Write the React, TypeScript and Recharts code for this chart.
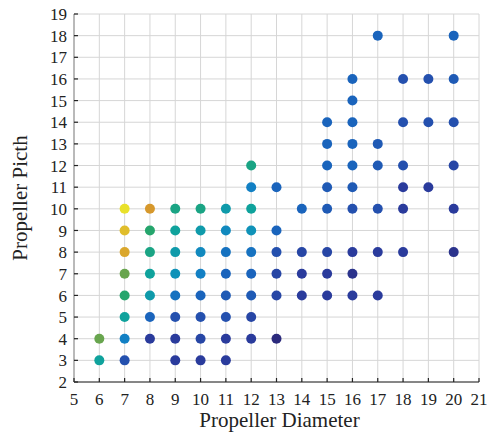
import { ScatterChart, Scatter, XAxis, YAxis, CartesianGrid } from 'recharts';

// propeller diameters (in)
const diameters = [6, 7, 8, 9, 10, 11, 12, 13, 14, 15, 16, 17, 18, 19, 20];

// pitches available for each diameter
const pitches = [
  [4, 3],
  [10, 9, 8, 7, 6, 5, 4, 3],
  [10, 9, 8, 7, 6, 5, 4],
  [10, 9, 8, 7, 6, 5, 4, 3],
  [10, 9, 8, 7, 6, 5, 4, 3],
  [10, 9, 8, 7, 6, 5, 4, 3],
  [12, 11, 10, 9, 8, 7, 6, 5, 4],
  [11, 9, 8, 7, 6, 4],
  [10, 8, 7, 6],
  [14, 13, 12, 11, 10, 8, 7, 6],
  [16, 15, 14, 13, 12, 11, 10, 8, 7, 6],
  [18, 13, 12, 10, 8, 6],
  [16, 14, 12, 11, 10, 8],
  [16, 14, 11],
  [18, 16, 14, 12, 10, 8],
];

// colour level (0 = rare .. 10 = common) for each point above
const levels = [
  [8, 6],
  [10, 9.5, 9.2, 8, 7, 6, 4, 2],
  [9, 7, 6.5, 6, 5.5, 3, 1],
  [6.5, 6, 5.5, 5, 3.5, 2, 1, 1],
  [6.5, 5.5, 4.5, 4, 3, 2, 1.5, 1],
  [5.5, 4.5, 3.5, 3, 2.5, 2, 1, 1],
  [6.5, 4, 6, 5, 3.5, 3, 2.5, 1.5, 1],
  [3, 3, 2, 1.5, 1.5, 0],
  [3, 1.5, 1, 1],
  [3, 3, 3, 2.5, 2.5, 1.5, 1, 1],
  [3, 3, 3, 3, 3, 2.5, 2, 1, 0.5, 1],
  [3, 2.5, 2.5, 2, 1, 1],
  [2, 2, 2, 1, 1, 1],
  [2, 2, 1],
  [3, 2.5, 2, 1.5, 1, 0.5],
];

const xTicks = [5, 6, 7, 8, 9, 10, 11, 12, 13, 14, 15, 16, 17, 18, 19, 20, 21];
const yTicks = [2, 3, 4, 5, 6, 7, 8, 9, 10, 11, 12, 13, 14, 15, 16, 17, 18, 19];

const palette = [
  '#2b2a7c', '#2a3b9c', '#2450ae', '#1a64bc', '#1280c4', '#0f92b8',
  '#0fa29c', '#25a56c', '#68a54e', '#d6982c', '#e9e12a',
];

const points = diameters.flatMap((d, i) =>
  pitches[i].map((p, j) => ({ diameter: d, pitch: p, level: levels[i][j] }))
);

function hexToRgb(h: string) {
  const n = parseInt(h.slice(1), 16);
  return [(n >> 16) & 255, (n >> 8) & 255, n & 255];
}

function colorFor(level: number) {
  const i = Math.min(Math.floor(level), palette.length - 2);
  const t = level - i;
  const a = hexToRgb(palette[i]);
  const b = hexToRgb(palette[i + 1]);
  const c = a.map((v, k) => Math.round(v + (b[k] - v) * t));
  return `rgb(${c[0]},${c[1]},${c[2]})`;
}

const font = '"Liberation Serif", "Times New Roman", serif';

const XTick = ({ x, y, payload }: any) => (
  <g>
    <line x1={x} x2={x} y1={y} y2={y - 4} stroke="#222" strokeWidth={1.2} />
    <text x={x} y={y + 23} textAnchor="middle" fontFamily={font} fontSize={17} fill="#222">
      {payload.value}
    </text>
  </g>
);

const YTick = ({ x, y, payload }: any) => (
  <g>
    <line x1={x} x2={x + 4} y1={y} y2={y} stroke="#222" strokeWidth={1.2} />
    <text x={x - 7} y={y} dy="0.36em" textAnchor="end" fontFamily={font} fontSize={17} fill="#222">
      {payload.value}
    </text>
  </g>
);

const Dot = (p: any) => <circle cx={p.cx} cy={p.cy} r={5} fill={colorFor(p.payload.level)} />;

export default function App() {
  return (
    <div style={{ position: 'absolute', left: 0, top: 0, background: '#fff' }}>
      <ScatterChart width={492} height={434} margin={{ top: 14, right: 13, bottom: 0, left: 0 }}>
        <CartesianGrid stroke="#d6d6d6" horizontalValues={yTicks} verticalValues={xTicks} />
        <XAxis
          type="number"
          dataKey="diameter"
          domain={[5, 21]}
          ticks={xTicks}
          interval={0}
          height={52}
          stroke="#222"
          tickSize={0}
          tickMargin={0}
          tick={<XTick />}
          label={{
            content: ({ viewBox }: any) => (
              <text
                x={viewBox.x + viewBox.width / 2 + 3}
                y={427}
                textAnchor="middle"
                fontFamily={font}
                fontSize={21}
                fill="#222"
              >
                Propeller Diameter
              </text>
            ),
          }}
        />
        <YAxis
          type="number"
          dataKey="pitch"
          domain={[2, 19]}
          ticks={yTicks}
          interval={0}
          width={74}
          stroke="#888"
          tickSize={0}
          tickMargin={0}
          tick={<YTick />}
          label={{
            content: ({ viewBox }: any) => {
              const cx = viewBox.x + 20;
              const cy = viewBox.y + viewBox.height / 2;
              return (
                <text
                  x={cx}
                  y={cy}
                  transform={`rotate(-90 ${cx} ${cy})`}
                  textAnchor="middle"
                  dominantBaseline="central"
                  fontFamily={font}
                  fontSize={21}
                  fill="#222"
                >
                  Propeller Picth
                </text>
              );
            },
          }}
        />
        <Scatter data={points} shape={<Dot />} isAnimationActive={false} />
      </ScatterChart>
    </div>
  );
}
